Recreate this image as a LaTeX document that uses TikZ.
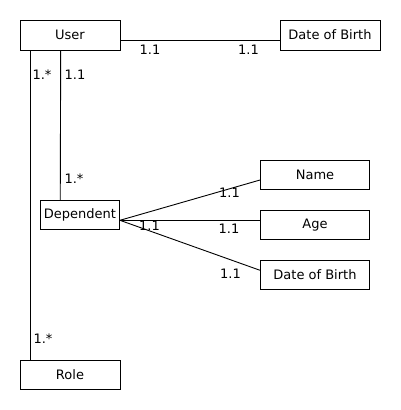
\documentclass[tikz,border=0pt]{standalone}
\usepackage{fontspec}
\setmainfont{DejaVu Sans}
\usepackage{tikz}
\usetikzlibrary{positioning, calc}

\begin{document}
\begin{tikzpicture}[x=1pt, y=-1pt,
    entity/.style={draw, line width=0.9pt, minimum height=29pt, inner sep=2pt, font=\fontsize{13}{15}\selectfont},
    card/.style={inner sep=0pt, font=\fontsize{13}{15}\selectfont},
    link/.style={line width=0.9pt}]
  \useasboundingbox (0,0) rectangle (400,410);

  % Entities
  \node[entity, minimum width=100pt, minimum height=30pt] (user) at (70, 35) {User};
  \node[entity, minimum width=100pt, minimum height=30pt] (userdob) at (330, 35) {Date of Birth};
  \node[entity, minimum width=79pt] (dep) at (80, 215) {Dependent};
  \node[entity, minimum width=109pt] (name) at (315, 174.7) {Name};
  \node[entity, minimum width=109pt] (age) at (315, 225) {Age};
  \node[entity, minimum width=109pt] (depdob) at (315, 275) {Date of Birth};
  \node[entity, minimum width=100pt] (role) at (70, 374.5) {Role};

  % Relations
  \draw[link] ([yshift=-5pt]user.east) -- ([yshift=-5pt]userdob.west);
  \draw[link] ([xshift=10.7pt]user.south west) -- ([xshift=10.7pt]role.north west);
  \draw[link] ([xshift=-9.3pt]user.south) -- ([xshift=20.2pt]dep.north west);
  \draw[link] ([yshift=-5.3pt]dep.east) -- ([yshift=-5.3pt]name.west);
  \draw[link] ([yshift=-5.3pt]dep.east) -- ([yshift=4.7pt]age.west);
  \draw[link] ([yshift=-5.3pt]dep.east) -- ([yshift=4.7pt]depdob.west);

  % Cardinalities
  \node[card] (cuser) at (150, 49.5) {1.1};
  \node[card] (cudob) at (248.5, 49.5) {1.1};
  \node[card] (curole) at (42, 75) {1.*};
  \node[card] (cudep) at (75, 75) {1.1};
  \node[card] (cdepu) at (74, 179) {1.*};
  \node[card] (crole) at (43, 339) {1.*};
  \node[card] (cname) at (229.5, 193) {1.1};
  \node[card] (cdep) at (149.5, 225.5) {1.1};
  \node[card] (cage) at (229, 229) {1.1};
  \node[card] (cddob) at (230.5, 273.5) {1.1};
\end{tikzpicture}
\end{document}
